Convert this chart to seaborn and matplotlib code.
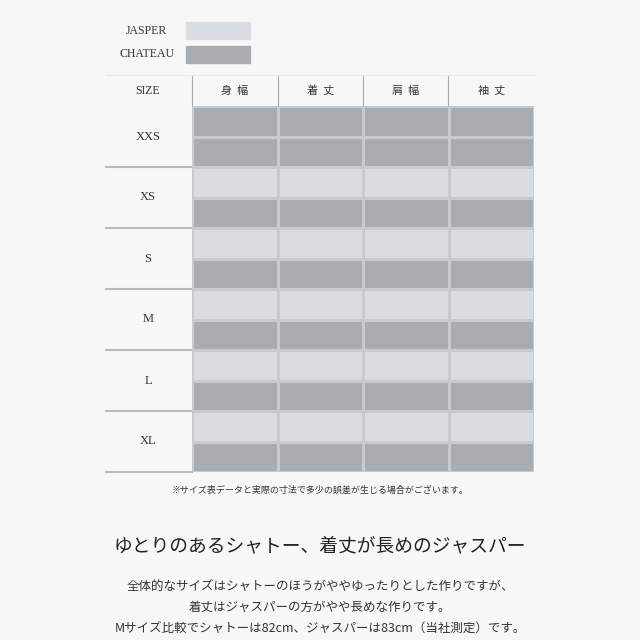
import numpy as np
import matplotlib.pyplot as plt
import seaborn as sns
from matplotlib.colors import ListedColormap

sizes = ['XXS', 'XS', 'S', 'M', 'L', 'XL']
headers = ['身幅', '着丈', '肩幅', '袖丈']
jasper = [None, [49, 79, 42, 63], [51, 81, 44, 65], [54, 83, 45, 66], [56, 86, 47, 68], [59, 88, 49, 70]]
chateau = [[46, 77, 41, 63], [49, 78, 43, 64], [52, 80, 44, 65], [54, 82, 46, 66], [57, 83, 47, 67], [60, 84, 49, 67]]

BG = '#f7f7f7'
JC, CC = '#d9dde1', '#a9adb0'
JP = 'Noto Sans CJK JP'
SERIF = 'Liberation Serif'

fig = plt.figure(figsize=(6.4, 6.4), dpi=100, facecolor=BG)
bg = fig.add_axes([0, 0, 1, 1])
bg.set_xlim(0, 640); bg.set_ylim(640, 0); bg.axis('off')

def fy(y):
    return 1 - y / 640

# colour matrix: 12 half-rows (XXS uses two chateau rows)
codes = []
for i in range(len(sizes)):
    if jasper[i] is None:
        codes += [[1] * 4, [1] * 4]
    else:
        codes += [[0] * 4, [1] * 4]
codes = np.array(codes)

x0, x1, y0, y1 = 192, 534, 106, 472
ax = fig.add_axes([x0 / 640, fy(y1), (x1 - x0) / 640, (y1 - y0) / 640])
sns.heatmap(codes, cmap=ListedColormap([JC, CC]), cbar=False, ax=ax,
            linewidths=0.8, linecolor='#c8cbce', xticklabels=False, yticklabels=False)
ax.set_xticks([]); ax.set_yticks([])

rh = (y1 - y0) / 12
cw = (x1 - x0) / 4
for i, s in enumerate(sizes):
    top = y0 + i * 2 * rh
    bg.text(148, top + rh, s, ha='center', va='center', fontsize=9, family=SERIF, color='#333')
    bg.plot([106, 192], [top + 2 * rh, top + 2 * rh], color='#bbbbbb', lw=1.5)
    for j in range(4):
        cx = x0 + (j + 0.5) * cw
        if jasper[i] is None:
            bg.text(cx, top + rh, f'{chateau[i][j]}cm', ha='center', va='center', fontsize=8, family=SERIF, color='#444')
        else:
            bg.text(cx, top + rh / 2, f'{jasper[i][j]}cm', ha='center', va='center', fontsize=8, family=SERIF, color='#444')
            bg.text(cx, top + 1.5 * rh, f'{chateau[i][j]}cm', ha='center', va='center', fontsize=8, family=SERIF, color='#444')

# header
bg.text(148, 91, 'SIZE', ha='center', va='center', fontsize=8.5, family=SERIF, color='#333')
for j, h in enumerate(headers):
    bg.text(x0 + (j + 0.5) * cw, 91, '  '.join(h), ha='center', va='center', fontsize=8, family=JP, color='#333')
for xv in [192, 278, 363, 448]:
    bg.plot([xv, xv], [75, 106], color='#aaaaaa', lw=0.8)
bg.plot([106, 534], [75, 75], color='#e6e6e6', lw=0.8)

# legend
bg.text(167, 31, 'JASPER', ha='right', va='center', fontsize=8.5, family=SERIF, color='#333')
bg.text(174, 54, 'CHATEAU', ha='right', va='center', fontsize=8.5, family=SERIF, color='#333')
bg.add_patch(plt.Rectangle((186, 22), 64, 17, color=JC))
bg.add_patch(plt.Rectangle((186, 46), 64, 17, color=CC))

bg.text(320, 490, '※サイズ表データと実際の寸法で多少の誤差が生じる場合がございます。',
        ha='center', va='center', fontsize=6.5, family=JP, color='#333')
bg.text(320, 546, 'ゆとりのあるシャトー、着丈が長めのジャスパー',
        ha='center', va='center', fontsize=13.5, family=JP, color='#222')
bg.text(320, 586, '全体的なサイズはシャトーのほうがややゆったりとした作りですが、',
        ha='center', va='center', fontsize=9, family=JP, color='#333')
bg.text(320, 607, '着丈はジャスパーの方がやや長めな作りです。',
        ha='center', va='center', fontsize=9, family=JP, color='#333')
bg.text(320, 628, 'Mサイズ比較でシャトーは82cm、ジャスパーは83cm（当社測定）です。',
        ha='center', va='center', fontsize=9, family=JP, color='#333')

fig.savefig('out.png', dpi=100, facecolor=BG)
